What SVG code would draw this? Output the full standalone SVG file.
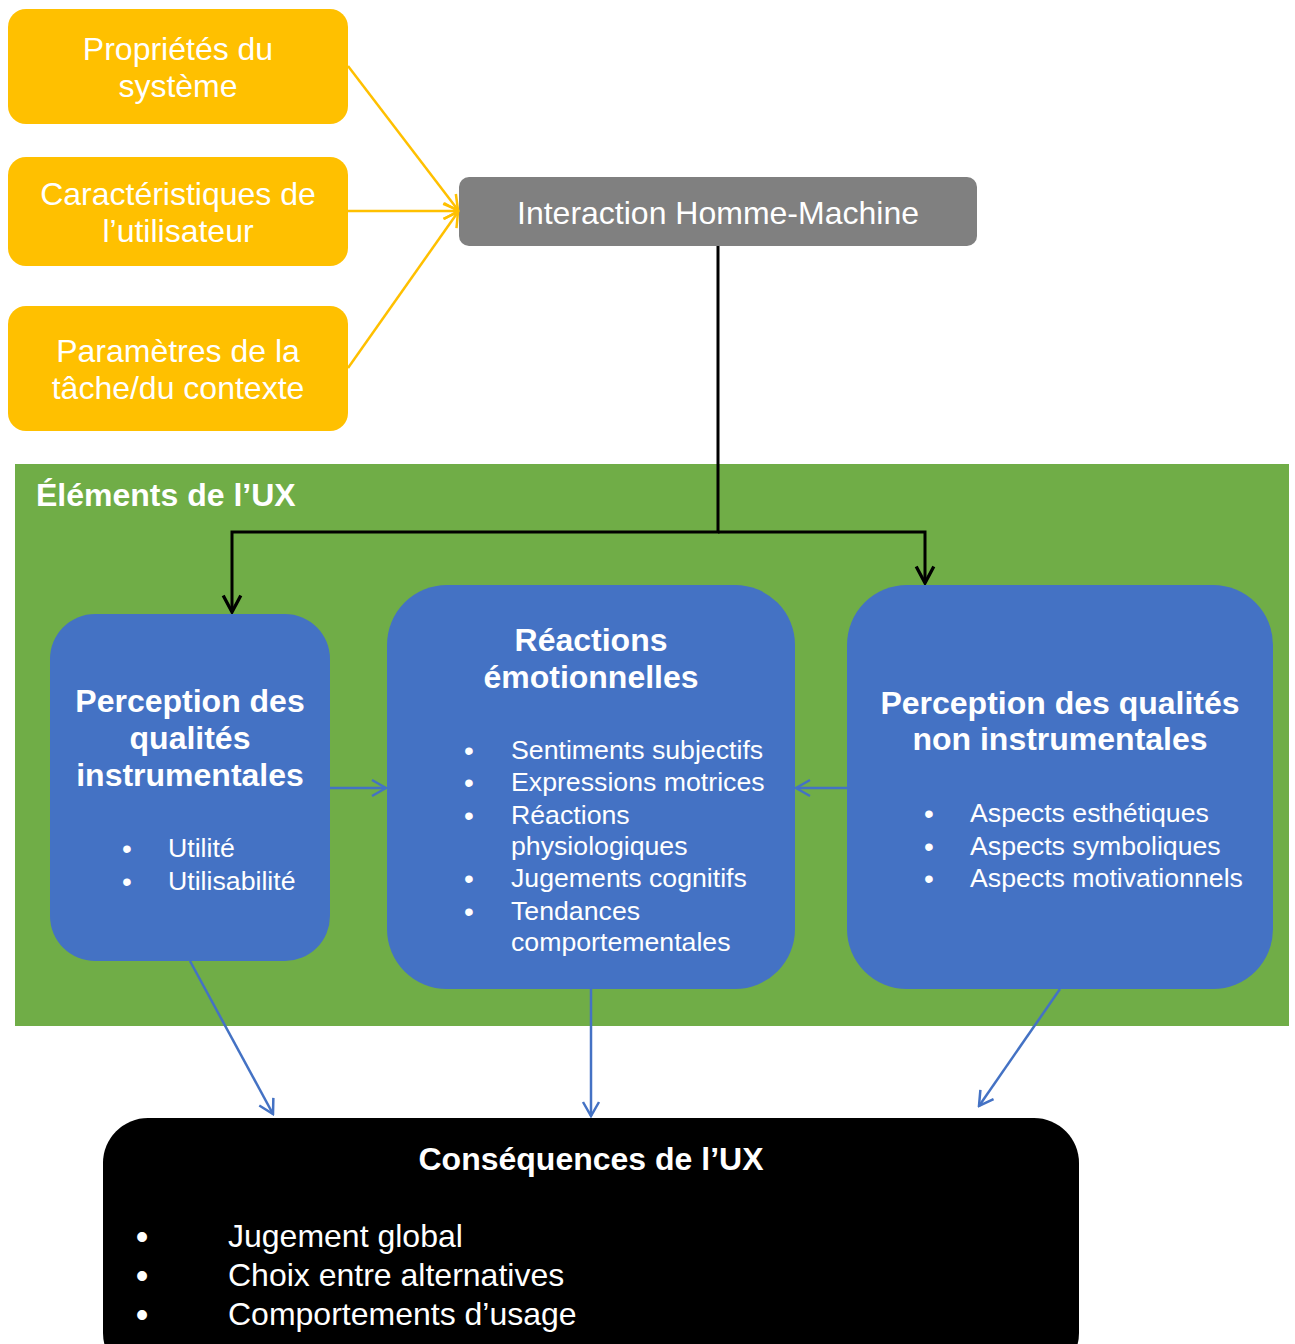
<svg xmlns="http://www.w3.org/2000/svg" width="1295" height="1344" viewBox="0 0 1295 1344">
<defs>
<style>
text{font-family:"Liberation Sans",Arial,sans-serif;fill:#fff}
.y{fill:#FFC000}
.b{fill:#4472C4}
.t28{font-size:32px}
.tb{font-size:32px;font-weight:bold}
.t24{font-size:26.7px}
.c{text-anchor:middle}
.d{font-size:28px;text-anchor:middle}
.D{font-size:36px;text-anchor:middle}
.yl{stroke:#FFC000;stroke-width:2.5;fill:none}
.bl{stroke:#4472C4;stroke-width:2.5;fill:none}
.kl{stroke:#000;stroke-width:3;fill:none}
</style>
<marker id="ay" viewBox="0 0 20 20" refX="18" refY="10" markerWidth="20" markerHeight="20" markerUnits="userSpaceOnUse" orient="auto"><path d="M4,2 L18,10 L4,18" fill="none" stroke="#FFC000" stroke-width="2.5"/></marker>
<marker id="ab" viewBox="0 0 20 20" refX="18" refY="10" markerWidth="20" markerHeight="20" markerUnits="userSpaceOnUse" orient="auto"><path d="M4,2 L18,10 L4,18" fill="none" stroke="#4472C4" stroke-width="2.5"/></marker>
<marker id="ak" viewBox="0 0 20 20" refX="18" refY="10" markerWidth="22" markerHeight="22" markerUnits="userSpaceOnUse" orient="auto"><path d="M3,2 L18,10 L3,18" fill="none" stroke="#000" stroke-width="3"/></marker>
</defs>
<rect width="1295" height="1344" fill="#fff"/>
<g id="ux-elements">
<rect x="15" y="464" width="1274" height="562" fill="#70AD47"/>
<text x="36" y="506" class="tb">Éléments de l’UX</text>
</g>
<g id="proprietes">
<rect x="8" y="9" width="340" height="115" rx="18" class="y"/>
<text x="178" y="60" class="t28 c">Propriétés du</text>
<text x="178" y="97" class="t28 c">système</text>
</g>
<g id="caracteristiques">
<rect x="8" y="157" width="340" height="109" rx="18" class="y"/>
<text x="178" y="205" class="t28 c">Caractéristiques de</text>
<text x="178" y="242" class="t28 c">l’utilisateur</text>
</g>
<g id="parametres">
<rect x="8" y="306" width="340" height="125" rx="18" class="y"/>
<text x="178" y="362" class="t28 c">Paramètres de la</text>
<text x="178" y="399" class="t28 c">tâche/du contexte</text>
</g>
<g id="ihm">
<rect x="459" y="177" width="518" height="69" rx="10" fill="#808080"/>
<text x="718" y="224" class="t28 c">Interaction Homme-Machine</text>
</g>
<g id="instrumentales">
<rect x="50" y="614" width="280" height="347" rx="45" class="b"/>
<text x="190" y="712" class="tb c">Perception des</text>
<text x="190" y="749" class="tb c">qualités</text>
<text x="190" y="786" class="tb c">instrumentales</text>
<text x="127" y="858" class="d">•</text><text x="168" y="857" class="t24">Utilité</text>
<text x="127" y="891" class="d">•</text><text x="168" y="890" class="t24">Utilisabilité</text>
</g>
<g id="emotionnelles">
<rect x="387" y="585" width="408" height="404" rx="60" class="b"/>
<text x="591" y="651" class="tb c">Réactions</text>
<text x="591" y="688" class="tb c">émotionnelles</text>
<text x="469" y="760" class="d">•</text><text x="511" y="759" class="t24">Sentiments subjectifs</text>
<text x="469" y="792" class="d">•</text><text x="511" y="791" class="t24">Expressions motrices</text>
<text x="469" y="825" class="d">•</text><text x="511" y="824" class="t24">Réactions</text>
<text x="511" y="855" class="t24">physiologiques</text>
<text x="469" y="888" class="d">•</text><text x="511" y="887" class="t24">Jugements cognitifs</text>
<text x="469" y="921" class="d">•</text><text x="511" y="920" class="t24">Tendances</text>
<text x="511" y="951" class="t24">comportementales</text>
</g>
<g id="non-instrumentales">
<rect x="847" y="585" width="426" height="404" rx="60" class="b"/>
<text x="1060" y="714" class="tb c">Perception des qualités</text>
<text x="1060" y="750" class="tb c">non instrumentales</text>
<text x="929" y="823" class="d">•</text><text x="970" y="822" class="t24">Aspects esthétiques</text>
<text x="929" y="856" class="d">•</text><text x="970" y="855" class="t24">Aspects symboliques</text>
<text x="929" y="888" class="d">•</text><text x="970" y="887" class="t24">Aspects motivationnels</text>
</g>
<g id="consequences">
<rect x="103" y="1118" width="976" height="260" rx="45" fill="#000"/>
<text x="591" y="1170" class="tb c">Conséquences de l’UX</text>
<text x="142" y="1249" class="D">•</text><text x="228" y="1247" class="t28">Jugement global</text>
<text x="142" y="1288" class="D">•</text><text x="228" y="1286" class="t28">Choix entre alternatives</text>
<text x="142" y="1327" class="D">•</text><text x="228" y="1325" class="t28">Comportements d’usage</text>
</g>
<g id="connectors">
<line x1="348" y1="66" x2="458" y2="210" class="yl" marker-end="url(#ay)"/>
<line x1="348" y1="211" x2="458" y2="211" class="yl" marker-end="url(#ay)"/>
<line x1="348" y1="368" x2="458" y2="212" class="yl" marker-end="url(#ay)"/>
<polyline points="718,246 718,532 232,532 232,612" class="kl" marker-end="url(#ak)"/>
<polyline points="718,532 925,532 925,583" class="kl" marker-end="url(#ak)"/>
<line x1="330" y1="788" x2="386" y2="788" class="bl" marker-end="url(#ab)"/>
<line x1="847" y1="788" x2="796" y2="788" class="bl" marker-end="url(#ab)"/>
<line x1="190" y1="961" x2="273" y2="1114" class="bl" marker-end="url(#ab)"/>
<line x1="591" y1="989" x2="591" y2="1116" class="bl" marker-end="url(#ab)"/>
<line x1="1060" y1="989" x2="979" y2="1106" class="bl" marker-end="url(#ab)"/>
</g>
</svg>
